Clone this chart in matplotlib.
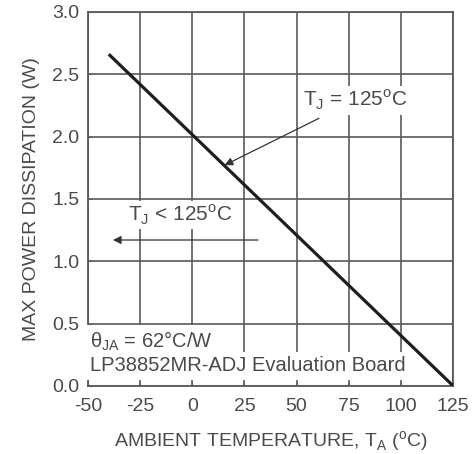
import matplotlib
matplotlib.use("Agg")
import matplotlib.pyplot as plt

plt.rcParams['font.family'] = ['Liberation Sans', 'DejaVu Sans']
plt.rcParams['axes.unicode_minus'] = False

# Data
temps = [-40, 125]
power = [2.66, 0.0]
x_ticks = [-50, -25, 0, 25, 50, 75, 100, 125]
y_ticks = [0.0, 0.5, 1.0, 1.5, 2.0, 2.5, 3.0]

txt = '#4a4a4a'
grid_c = '#5a5a5a'

fig = plt.figure(figsize=(4.75, 4.54), dpi=100)
ax = fig.add_axes([0.185, 0.150, 0.769, 0.824])

ax.plot(temps, power, color='#1e1e1e', lw=2.3, zorder=5, solid_capstyle='butt')

ax.set_xlim(-50, 125)
ax.set_ylim(0, 3.0)
ax.set_xticks(x_ticks)
ax.set_yticks(y_ticks)
ax.set_xticklabels([str(t) for t in x_ticks])
ax.set_yticklabels([f"{v:.1f}" for v in y_ticks])
ax.grid(True, color=grid_c, lw=1.2, zorder=1)
ax.tick_params(direction='in', length=3, color=grid_c, labelsize=14,
               labelcolor=txt)
ax.tick_params(axis='x', pad=9)
ax.tick_params(axis='y', pad=6)
for s in ax.spines.values():
    s.set_color(grid_c)
    s.set_linewidth(1.3)

ax.set_xlabel('AMBIENT TEMPERATURE, T$_\\mathregular{A}$ ($^\\mathregular{o}$C)',
              fontsize=14, color=txt, labelpad=10)
ax.set_ylabel('MAX POWER DISSIPATION (W)', fontsize=14, color=txt, labelpad=9)

bb = dict(facecolor='white', edgecolor='none', pad=1.5)

ax.annotate('T$_\\mathregular{J}$ = 125$^\\mathregular{o}$C', xy=(15.5, 1.77), xytext=(53, 2.29),
            fontsize=15, color=txt, va='center', ha='left', bbox=bb, zorder=6,
            arrowprops=dict(arrowstyle='-|>', color='#333333', lw=0.9,
                            mutation_scale=12, shrinkA=6, shrinkB=0))

ax.text(-31, 1.37, 'T$_\\mathregular{J}$ < 125$^\\mathregular{o}$C', fontsize=15, color=txt,
        va='center', ha='left', bbox=bb, zorder=6)
ax.annotate('', xy=(-38, 1.17), xytext=(31.5, 1.17),
            arrowprops=dict(arrowstyle='-|>', color='#333333', lw=0.9,
                            mutation_scale=12, shrinkA=0, shrinkB=0), zorder=6)

ax.text(-49.2, 0.36, '$\\mathregular{\\theta_{JA}}$ = 62°C/W', fontsize=14.5, color=txt,
        va='center', ha='left', bbox=dict(facecolor='white', edgecolor='none', pad=3.5), zorder=4)
ax.text(-49.2, 0.16, 'LP38852MR-ADJ Evaluation Board', fontsize=14.5, color=txt,
        va='center', ha='left', bbox=dict(facecolor='white', edgecolor='none', pad=3.5), zorder=4)

fig.savefig('out.png', dpi=100, facecolor='white')
